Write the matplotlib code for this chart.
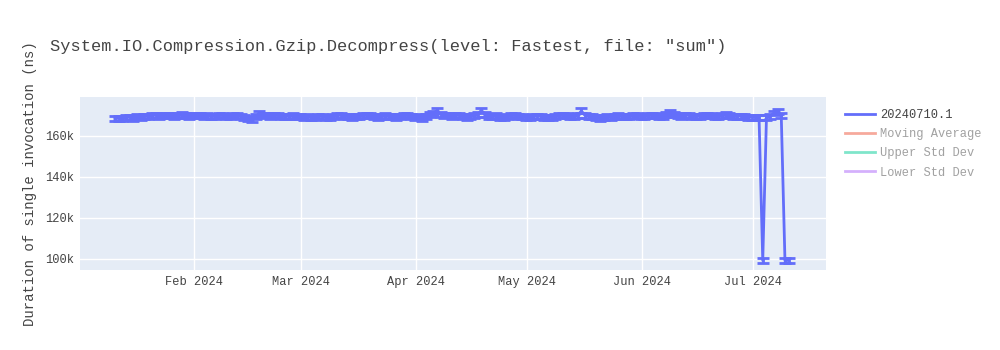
import matplotlib
matplotlib.use("Agg")
import matplotlib.pyplot as plt
import matplotlib.dates as mdates
from matplotlib.lines import Line2D
import pandas as pd
import numpy as np

# ---------------- data ----------------
title = 'System.IO.Compression.Gzip.Decompress(level: Fastest, file: "sum")'
y_label = "Duration of single invocation (ns)"
series_name = "20240710.1"
hidden_series = ["Moving Average", "Upper Std Dev", "Lower Std Dev"]
start_date = "2024-01-10 18:00"
end_date = "2024-07-10 18:00"

jan_k = [168.4, 168.6, 168.5, 168.9, 169.1, 168.7, 169.3, 169.0, 169.6, 169.4, 169.8,
         170.1, 169.7, 170.2, 169.9, 170.0, 169.5, 169.8, 170.3, 170.0, 169.6, 169.9]
feb_k = [170.2, 169.8, 169.5, 170.0, 169.7, 169.4, 169.9, 170.1, 169.6, 169.3, 169.8,
         170.0, 169.7, 169.2, 168.5, 167.9, 169.5, 171.0, 170.2, 169.9, 169.6, 169.8,
         170.0, 169.7, 169.4, 169.6, 169.9, 169.5, 169.3]
mar_k = [169.0, 169.4, 169.2, 168.9, 169.3, 169.6, 169.1, 168.8, 169.5, 169.8, 170.1,
         169.7, 169.4, 169.0, 169.3, 169.6, 169.9, 170.2, 169.8, 169.5, 169.2, 169.6,
         170.0, 169.7, 169.3, 169.1, 169.5, 169.8, 170.1, 169.6, 169.2]
apr_k = [169.3, 168.7, 169.5, 170.4, 171.2, 172.3, 170.6, 169.9, 170.2, 169.6, 169.8,
         170.1, 169.4, 169.2, 169.7, 170.0, 170.4, 172.6, 170.3, 169.7, 169.5, 169.9,
         169.2, 168.9, 169.4, 169.8, 170.0, 169.6, 169.3, 169.1]
may_k = [169.0, 169.3, 169.7, 169.5, 169.1, 168.8, 169.2, 169.6, 169.9, 170.2, 169.8,
         169.4, 169.6, 170.0, 172.2, 170.1, 169.7, 169.3, 169.0, 168.7, 169.1, 169.4,
         169.2, 169.5, 169.8, 169.6, 169.3, 169.7, 170.0, 169.8, 169.5]
jun_k = [169.6, 169.9, 170.2, 169.8, 169.4, 169.7, 170.3, 171.5, 170.4, 169.8, 169.5,
         169.9, 170.1, 169.7, 169.4, 169.6, 170.0, 170.2, 169.8, 169.5, 169.7, 170.1,
         170.3, 169.9, 169.6, 169.4, 169.7, 169.3, 169.0, 169.2]
jul_k = [169.1, 168.8, 99.2, 168.9, 169.6, 171.2, 172.0, 169.8, 99.1, 99.3]
err_k = 1.2  # half-width of error bars, thousands of ns

y_ticks = [100000, 120000, 140000, 160000]
x_ticks = ["2024-02-01", "2024-03-01", "2024-04-01", "2024-05-01", "2024-06-01", "2024-07-01"]
x_tick_labels = ["Feb 2024", "Mar 2024", "Apr 2024", "May 2024", "Jun 2024", "Jul 2024"]
x_range = ("2024-01-01 08:00", "2024-07-20 20:00")
y_range = (94600, 179000)

# ---------------- plot ----------------
dates = pd.date_range(start_date, end_date, freq="D")
values = np.array(jan_k + feb_k + mar_k + apr_k + may_k + jun_k + jul_k) * 1000.0
errs = np.full(len(values), err_k * 1000.0)

W, H, DPI = 1000, 350, 100
def px(p):
    return p * 72.0 / DPI

plt.rcParams["font.family"] = ["Liberation Mono", "DejaVu Sans Mono"]
TXT = "#444444"
BLUE = "#636efa"

fig = plt.figure(figsize=(W / DPI, H / DPI), dpi=DPI)
fig.patch.set_facecolor("white")
l, r, t, b = 80, 826, 97, 270
ax = fig.add_axes([l / W, (H - b) / H, (r - l) / W, (b - t) / H])
ax.set_facecolor("#E5ECF6")
for s in ax.spines.values():
    s.set_visible(False)

ax.errorbar(dates, values, yerr=errs, color=BLUE, lw=2, elinewidth=2,
            capsize=4, capthick=2, zorder=3)

ax.set_xlim(pd.Timestamp(x_range[0]), pd.Timestamp(x_range[1]))
ax.set_ylim(*y_range)

ax.set_xticks(mdates.date2num(pd.to_datetime(x_ticks)))
ax.set_xticklabels(x_tick_labels)
ax.set_yticks(y_ticks)
ax.set_yticklabels([f"{v // 1000}k" for v in y_ticks])

ax.grid(True, color="white", lw=1)
ax.set_axisbelow(True)
ax.tick_params(axis="both", length=0, labelsize=px(12), colors=TXT)
ax.tick_params(axis="x", pad=4)
ax.tick_params(axis="y", pad=4)

fig.text(50 / W, 1 - 46 / H, title, fontsize=px(17), color=TXT, va="center", ha="left")
fig.text(30 / W, 1 - ((t + b) / 2) / H, y_label, fontsize=px(14), color=TXT,
         rotation=90, va="center", ha="center")

handles = [Line2D([], [], color=BLUE, lw=2)]
labels = [series_name]
for c in ["#EF553B", "#00cc96", "#ab63fa"]:
    handles.append(Line2D([], [], color=c, lw=2, alpha=0.5))
labels += hidden_series
leg = fig.legend(handles, labels, loc="upper left", bbox_to_anchor=(845 / W, 1 - 109 / H),
                 frameon=False, fontsize=px(12), handlelength=2.5, handletextpad=0.4,
                 labelspacing=0.6, borderaxespad=0, borderpad=0)
for i, txt in enumerate(leg.get_texts()):
    txt.set_color(TXT)
    if i > 0:
        txt.set_alpha(0.5)

fig.savefig("out.png", dpi=DPI, facecolor="white")
